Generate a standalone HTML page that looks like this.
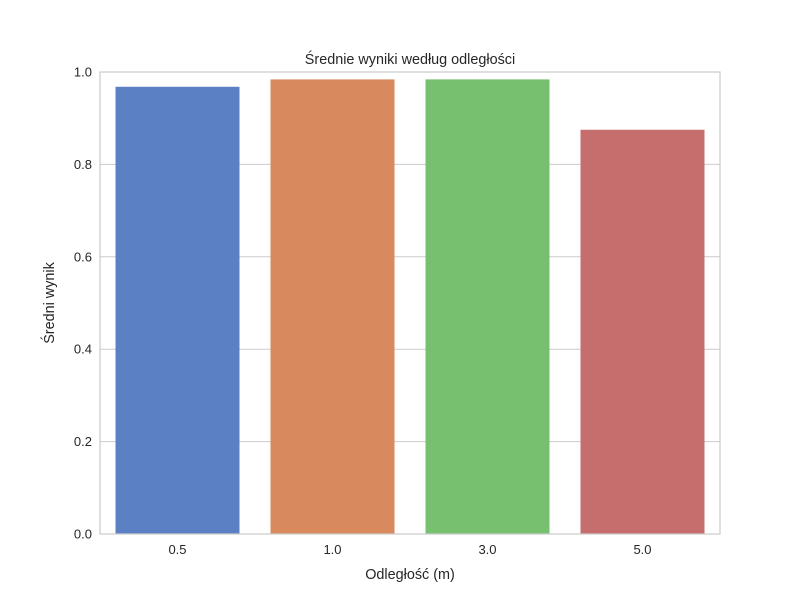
<!DOCTYPE html>
<html><head><meta charset="utf-8"><style>
body{margin:0;background:#fff;}
svg text{font-family:"Liberation Sans","DejaVu Sans",sans-serif;fill:#262626;}
</style></head><body>
<svg id="chart" width="800" height="600">
<rect x="100" y="72" width="620" height="462" fill="#fff"/>
<g id="grid"></g><g id="bars"></g>
<rect x="100" y="72" width="620" height="462" fill="none" stroke="#cccccc" stroke-width="1.25"/>
<g id="ticks"></g>
<text x="410" y="64" text-anchor="middle" font-size="14.4">Średnie wyniki według odległości</text>
<text x="410" y="579" text-anchor="middle" font-size="14.4">Odległość (m)</text>
<text x="54" y="303" text-anchor="middle" font-size="14.4" transform="rotate(-90 54 303)">Średni wynik</text>
</svg>
<script>
const categories=["0.5","1.0","3.0","5.0"];
const values=[0.968,0.984,0.984,0.875];
const colors=["#5b80c4","#d88a5e","#76c070","#c66e6d"];
const yTicks=[0,0.2,0.4,0.6,0.8,1.0];
const X0=100,W=620,Y0=534,H=462;
const ns="http://www.w3.org/2000/svg";
function y(v){return Y0-v*H;}
function xc(i){return X0+W*(i+0.5)/categories.length;}
const bw=W/categories.length*0.8;
function mk(t,a,p){const e=document.createElementNS(ns,t);for(const k in a)e.setAttribute(k,a[k]);p.appendChild(e);return e;}
const grid=document.getElementById('grid'),bars=document.getElementById('bars'),ticks=document.getElementById('ticks');
yTicks.forEach(v=>{
 const l=mk('line',{x1:X0,x2:X0+W,y1:y(v),y2:y(v),stroke:'#cccccc','stroke-width':1},grid);
 
 
 const t=mk('text',{x:X0-8,y:y(v)+4.5,'text-anchor':'end','font-size':13},ticks);
 t.textContent=v.toFixed(1);
 
 
});
categories.forEach((c,i)=>{
 const r=mk('rect',{x:xc(i)-bw/2,y:y(values[i]),width:bw,height:values[i]*H,fill:colors[i]},bars);
 
 
 const t=mk('text',{x:xc(i),y:Y0+20,'text-anchor':'middle','font-size':13},ticks);
 t.textContent=c;
 
 
});
</script>
</body></html>
